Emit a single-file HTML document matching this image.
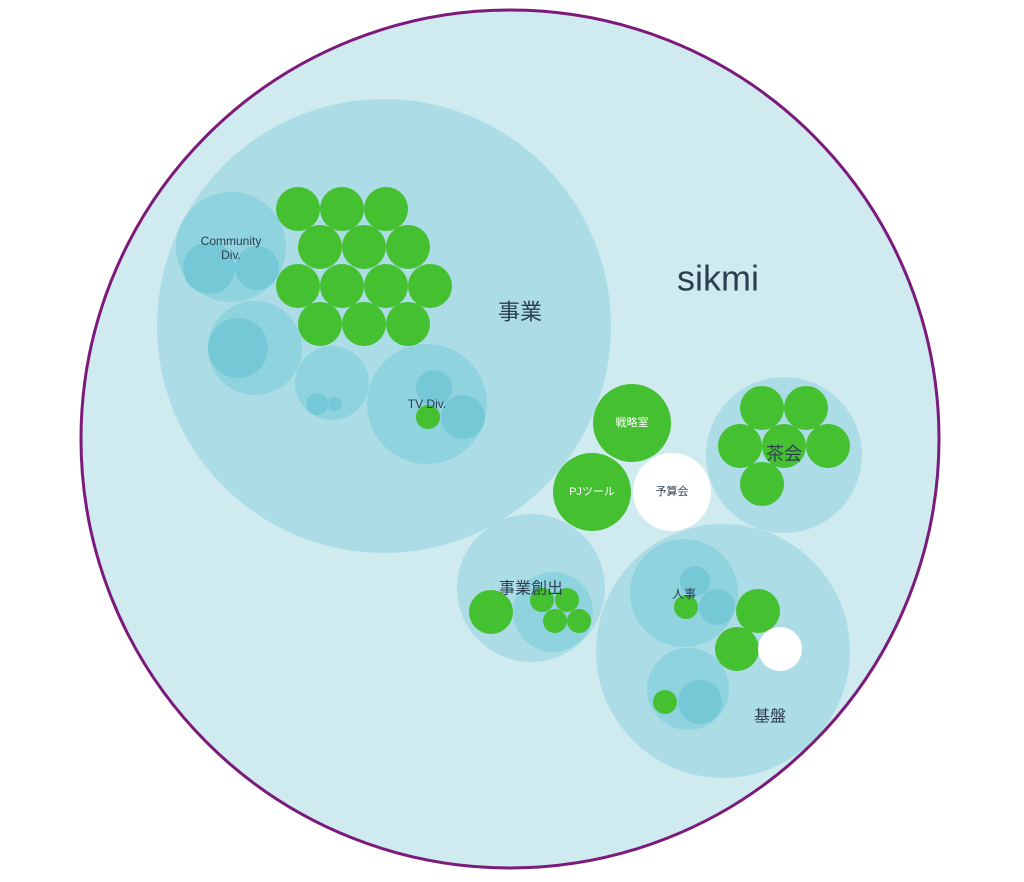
<!DOCTYPE html>
<html><head><meta charset="utf-8"><style>
html,body{margin:0;padding:0;background:#fff;width:1024px;height:882px;overflow:hidden}
text{font-family:"Liberation Sans","Noto Sans CJK JP",sans-serif;text-anchor:middle;dominant-baseline:central;fill:#2d3e50}
.w{fill:#fff}
</style></head><body>
<svg width="1024" height="882" viewBox="0 0 1024 882">
<circle cx="510" cy="439" r="429" fill="#d0ebf0" stroke="#7b1a7b" stroke-width="3"/>
<g fill="#acdde6">
<circle cx="384" cy="326" r="227"/>
<circle cx="784" cy="455" r="78"/>
<circle cx="531" cy="588" r="74"/>
<circle cx="723" cy="651" r="127"/>
</g>
<g fill="#8ed3dd">
<circle cx="231" cy="247" r="55"/>
<circle cx="255" cy="348" r="47"/>
<circle cx="332" cy="383" r="37"/>
<circle cx="427" cy="404" r="60"/>
<circle cx="553" cy="612" r="40"/>
<circle cx="684" cy="593" r="54"/>
<circle cx="688" cy="689" r="41"/>
</g>
<g fill="#75c9d6">
<circle cx="209" cy="268" r="26"/>
<circle cx="257" cy="268" r="22"/>
<circle cx="238" cy="348" r="30"/>
<circle cx="317" cy="404" r="11"/>
<circle cx="335" cy="404" r="7"/>
<circle cx="434" cy="388" r="18"/>
<circle cx="463" cy="417" r="22"/>
<circle cx="695" cy="581" r="15"/>
<circle cx="717" cy="607" r="18"/>
<circle cx="700" cy="702" r="22"/>
</g>
<g fill="#44c031">
<circle cx="298" cy="209" r="22"/><circle cx="342" cy="209" r="22"/><circle cx="386" cy="209" r="22"/>
<circle cx="320" cy="247" r="22"/><circle cx="364" cy="247" r="22"/><circle cx="408" cy="247" r="22"/>
<circle cx="298" cy="286" r="22"/><circle cx="342" cy="286" r="22"/><circle cx="386" cy="286" r="22"/><circle cx="430" cy="286" r="22"/>
<circle cx="320" cy="324" r="22"/><circle cx="364" cy="324" r="22"/><circle cx="408" cy="324" r="22"/>
<circle cx="428" cy="417" r="12"/>
<circle cx="632" cy="423" r="39"/>
<circle cx="592" cy="492" r="39"/>
<circle cx="762" cy="408" r="22"/><circle cx="806" cy="408" r="22"/>
<circle cx="740" cy="446" r="22"/><circle cx="784" cy="446" r="22"/><circle cx="828" cy="446" r="22"/>
<circle cx="762" cy="484" r="22"/>
<circle cx="491" cy="612" r="22"/>
<circle cx="542" cy="600" r="12"/><circle cx="567" cy="600" r="12"/>
<circle cx="555" cy="621" r="12"/><circle cx="579" cy="621" r="12"/>
<circle cx="686" cy="607" r="12"/>
<circle cx="758" cy="611" r="22"/>
<circle cx="737" cy="649" r="22"/>
<circle cx="665" cy="702" r="12"/>
</g>
<circle cx="672" cy="492" r="39" fill="#fff"/>
<circle cx="780" cy="649" r="22" fill="#fff"/>
<text x="718" y="278" font-size="36">sikmi</text>
<text x="520" y="312" font-size="22">事業</text>
<text x="231" y="241" font-size="12">Community</text>
<text x="231" y="255" font-size="12">Div.</text>
<text x="427" y="404" font-size="12">TV Div.</text>
<text x="632" y="423" font-size="11" class="w">戦略室</text>
<text x="592" y="492" font-size="11" class="w">PJツール</text>
<text x="672" y="492" font-size="11">予算会</text>
<text x="784" y="454" font-size="18">茶会</text>
<text x="531" y="589" font-size="16">事業創出</text>
<text x="684" y="594" font-size="12">人事</text>
<text x="770" y="717" font-size="16">基盤</text>
</svg>
</body></html>
